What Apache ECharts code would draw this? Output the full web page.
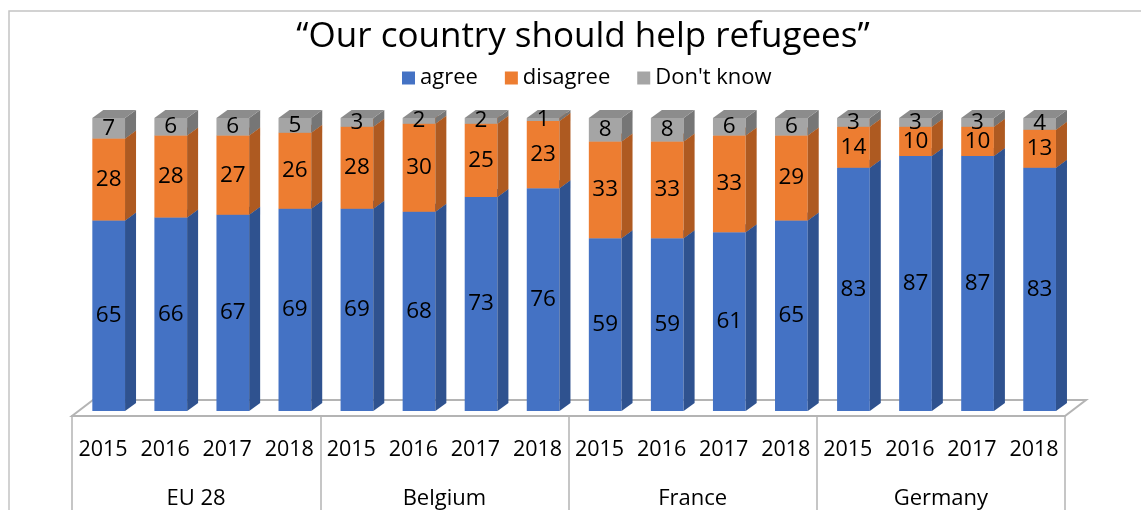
<!DOCTYPE html>
<html>
<head>
<meta charset="utf-8">
<script src="https://cdn.jsdelivr.net/npm/echarts@6/dist/echarts.min.js"></script>
<style>
html, body { margin: 0; padding: 0; background: #ffffff; }
#chart { width: 1141px; height: 510px; }
</style>
</head>
<body>
<div id="chart"></div>
<script>
// Survey answers (%), four years per country
const countries = ['EU 28', 'Belgium', 'France', 'Germany'];
const years = ['2015', '2016', '2017', '2018'];
const agree    = [65, 66, 67, 69,  69, 68, 73, 76,  59, 59, 61, 65,  83, 87, 87, 83];
const disagree = [28, 28, 27, 26,  28, 30, 25, 23,  33, 33, 33, 29,  14, 10, 10, 13];
const dontKnow = [ 7,  6,  6,  5,   3,  2,  2,  1,   8,  8,  6,  6,   3,  3,  3,  4];
const seriesNames = ['agree', 'disagree', "Don't know"];

const FONT = '"Open Sans", "Noto Sans", sans-serif';
const LINE = '#b4b4b4';

// one year label per bar, repeated for each country
const yearLabels = [];
countries.forEach(() => years.forEach(y => yearLabels.push(y)));

// 3D box geometry relative to the category centre
const FRONT_L = -10.7, FRONT_R = 22, DX = 11, DY = -8;

function boxSeries(name, values, bases, colors) {
  return {
    type: 'custom',
    name: name,
    xAxisIndex: 0,
    yAxisIndex: 0,
    itemStyle: { color: colors.front },
    data: values.map((v, i) => [i, bases[i], bases[i] + v, v]),
    encode: { x: 0, y: [1, 2] },
    renderItem: function (params, api) {
      const i = api.value(0);
      const p0 = api.coord([i, api.value(1)]);
      const p1 = api.coord([i, api.value(2)]);
      const xl = p0[0] + FRONT_L, xr = p0[0] + FRONT_R;
      const yb = p0[1], yt = p1[1];
      return {
        type: 'group',
        children: [
          { type: 'rect', shape: { x: xl, y: yt, width: xr - xl, height: yb - yt }, style: { fill: colors.front } },
          { type: 'polygon', shape: { points: [[xr, yt], [xr + DX, yt + DY], [xr + DX, yb + DY], [xr, yb]] }, style: { fill: colors.side } },
          { type: 'polygon', shape: { points: [[xl, yt], [xr, yt], [xr + DX, yt + DY], [xl + DX, yt + DY]] }, style: { fill: colors.top } },
          {
            type: 'text', z2: 100,
            x: (xl + xr) / 2, y: (yt + yb) / 2,
            style: { text: String(api.value(3)), fill: '#000000', font: '22.5px ' + FONT, align: 'center', verticalAlign: 'middle' }
          }
        ]
      };
    }
  };
}

const baseAgree = agree.map(() => 0);
const baseDisagree = agree.slice();
const baseDontKnow = agree.map((v, i) => v + disagree[i]);

// floor plate under the bars
const floorSeries = {
  type: 'custom',
  name: 'floor',
  silent: true,
  data: [[0, 0]],
  encode: { x: 0, y: 1 },
  renderItem: function (params) {
    const cs = params.coordSys;
    const base = cs.y + cs.height;
    const yF = base + 5, yB = base - 11, d = 21;
    return {
      type: 'polygon',
      shape: { points: [[cs.x, yF], [cs.x + cs.width, yF], [cs.x + cs.width + d, yB], [cs.x + d, yB]] },
      style: { fill: '#ffffff', stroke: LINE, lineWidth: 2 }
    };
  }
};

const chart = echarts.init(document.getElementById('chart'), null, { renderer: 'canvas' });
chart.setOption({
  animation: false,
  backgroundColor: '#ffffff',
  title: {
    text: '\u201COur country should help refugees\u201D',
    left: 578,
    textAlign: 'center',
    top: 15,
    textStyle: { fontFamily: FONT, fontSize: 35, fontWeight: 'normal', color: '#000000' }
  },
  legend: {
    data: seriesNames,
    left: 397,
    top: 62,
    icon: 'rect',
    itemWidth: 13,
    itemHeight: 13,
    itemGap: 27,
    textStyle: { fontFamily: FONT, fontSize: 22, color: '#000000' }
  },
  grid: { left: 72, right: 76, top: 118, bottom: 97, containLabel: false },
  xAxis: [
    {
      type: 'category',
      data: yearLabels,
      position: 'bottom',
      axisLine: { show: false },
      axisTick: { show: false },
      axisLabel: { interval: 0, margin: 28, fontFamily: FONT, fontSize: 21.5, color: '#000000' }
    },
    {
      type: 'category',
      data: countries,
      position: 'bottom',
      offset: 5,
      axisLine: { show: true, lineStyle: { color: LINE, width: 2 } },
      axisTick: { show: true, length: 100, lineStyle: { color: LINE, width: 1.5 } },
      axisLabel: { interval: 0, margin: 72, fontFamily: FONT, fontSize: 22, color: '#000000' }
    }
  ],
  yAxis: { type: 'value', min: 0, max: 100, show: false },
  graphic: [
    {
      type: 'rect', silent: true, z: -1,
      shape: { x: 9, y: 11, width: 1300, height: 700 },
      style: { fill: 'none', stroke: '#c4c4c4', lineWidth: 1.5 }
    }
  ],
  series: [
    floorSeries,
    boxSeries(seriesNames[0], agree, baseAgree, { front: '#4472C4', side: '#2F528F', top: '#3A62A8' }),
    boxSeries(seriesNames[1], disagree, baseDisagree, { front: '#ED7D31', side: '#AE5A21', top: '#C96A29' }),
    boxSeries(seriesNames[2], dontKnow, baseDontKnow, { front: '#A5A5A5', side: '#767676', top: '#8C8C8C' })
  ]
});
</script>
</body>
</html>
